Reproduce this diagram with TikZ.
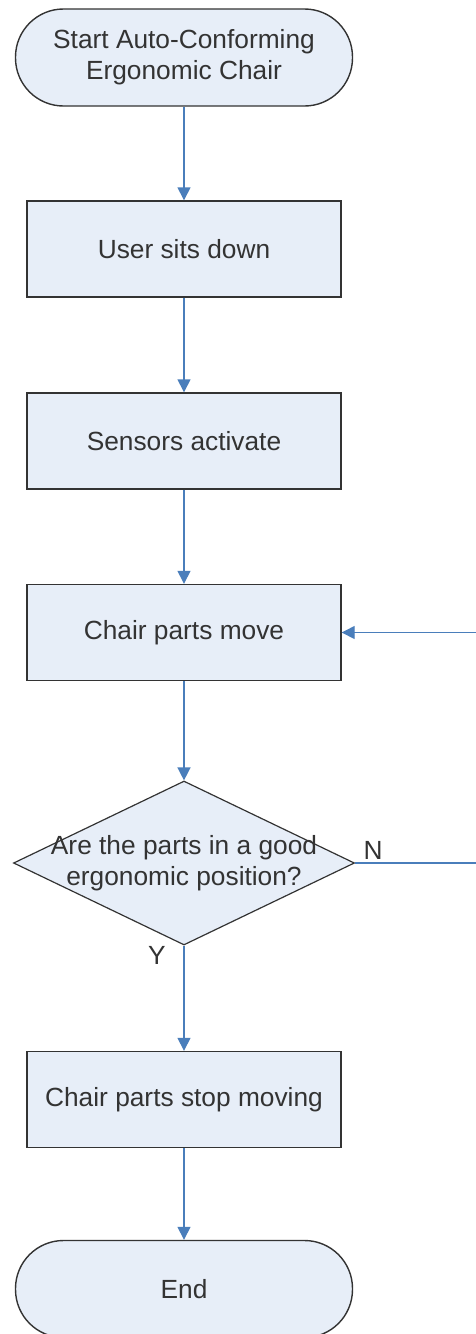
\documentclass[tikz,border=0pt]{standalone}
\usepackage{fontspec}
\setmainfont{Liberation Sans}
\usepackage{xcolor}
\usepackage{tikz}
\usetikzlibrary{shapes,arrows,positioning,calc,arrows.meta}
\definecolor{flowfill}{HTML}{E7EEF8}
\definecolor{flowline}{HTML}{4A7EBB}
\definecolor{flowedge}{HTML}{333333}

\begin{document}
\begin{tikzpicture}[x=1pt, y=-1pt,
    every node/.style={font=\fontsize{26.3}{31}\selectfont, text=flowedge},
    process/.style={draw=flowedge, line width=1.4pt, fill=flowfill, minimum width=314pt, minimum height=96pt, inner sep=0pt},
    terminal/.style={process, minimum width=337pt, minimum height=97pt, rounded corners=48pt, align=center},
    decision/.style={diamond, draw=flowedge, line width=1.2pt, fill=flowfill, minimum width=341pt, minimum height=164pt, inner sep=0pt},
    flow/.style={draw=flowline, line width=1.4pt, -{Triangle[width=13pt,length=13pt]}}]
    \useasboundingbox (0,0) rectangle (475,1334);

    % Start and end
    \node[terminal] (start) at (184,57.5) {Start Auto-Conforming\\Ergonomic Chair};
    \node[terminal] (finish) at (184,1289) {End};

    % Steps
    \foreach \n/\y/\t in {sit/249/User sits down, sense/441/Sensors activate, move/632.5/Chair parts move, stop/1099.5/Chair parts stop moving} {
        \node[process] (\n) at (184,\y) {\t};
    }

    % Decision
    \node[decision] (check) at (184,863) {};
    \node[align=center] (checktext) at (check) {Are the parts in a good\\ergonomic position?};

    % Arrows
    \draw[flow] (start) -- (sit);
    \draw[flow] (sit) -- (sense);
    \draw[flow] (sense) -- (move);
    \draw[flow] (move) -- (check.north);
    \draw[flow] (check.south) -- (stop);
    \draw[flow] (stop) -- (finish);

    % Loop back
    \coordinate (loopbot) at (478,863);
    \coordinate (looptop) at (478,632.5);
    \draw[flow] (check.east) -- (loopbot) -- (looptop) -- (move.east);
    \node (nlabel) at (373,850) {N};
    \node (ylabel) at (157,955) {Y};
\end{tikzpicture}
\end{document}
